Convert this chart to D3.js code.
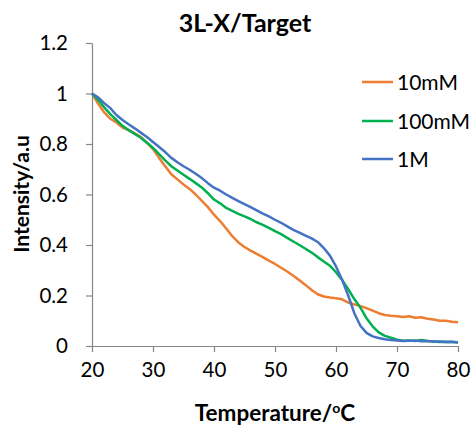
<!DOCTYPE html>
<html><head><meta charset="utf-8">
<script src="https://cdn.jsdelivr.net/npm/d3@7"></script>
<style>body{margin:0;background:#fff}svg{display:block}text{font-family:Lato,"Open Sans",sans-serif;fill:#000}</style>
</head><body>
<script>
const temps = d3.range(20, 81);
const seriesNames = ["10mM", "100mM", "1M"];
const seriesColors = ["#ED7D31", "#00B050", "#4472C4"];
const v10mM = [1.000,0.960,0.925,0.900,0.885,0.865,0.855,0.842,0.828,0.805,0.780,0.745,0.712,0.680,0.660,0.640,0.622,0.600,0.575,0.550,0.520,0.495,0.465,0.435,0.410,0.392,0.378,0.365,0.352,0.338,0.325,0.310,0.295,0.278,0.260,0.242,0.222,0.205,0.196,0.192,0.189,0.185,0.172,0.165,0.158,0.150,0.140,0.130,0.123,0.120,0.118,0.115,0.118,0.112,0.114,0.108,0.105,0.100,0.100,0.096,0.094];
const v100mM = [1.000,0.975,0.945,0.918,0.895,0.872,0.855,0.840,0.825,0.805,0.785,0.760,0.735,0.712,0.695,0.678,0.662,0.645,0.628,0.605,0.580,0.565,0.547,0.535,0.523,0.513,0.503,0.490,0.480,0.468,0.455,0.443,0.428,0.414,0.400,0.385,0.370,0.352,0.335,0.318,0.292,0.262,0.225,0.186,0.152,0.110,0.078,0.054,0.040,0.033,0.025,0.021,0.022,0.020,0.024,0.020,0.018,0.016,0.017,0.016,0.015];
const v1M = [1.000,0.985,0.962,0.942,0.915,0.895,0.878,0.862,0.845,0.828,0.808,0.788,0.768,0.745,0.728,0.712,0.698,0.682,0.665,0.645,0.627,0.615,0.600,0.587,0.574,0.562,0.550,0.537,0.524,0.513,0.500,0.488,0.474,0.460,0.449,0.437,0.426,0.412,0.388,0.358,0.315,0.262,0.200,0.130,0.080,0.052,0.038,0.032,0.027,0.024,0.022,0.020,0.021,0.022,0.019,0.020,0.018,0.018,0.016,0.017,0.014];
const xTicks = [20,30,40,50,60,70,80];
const yTicks = [0,0.2,0.4,0.6,0.8,1,1.2];
const title = "3L-X/Target";
const xTitle = "Temperature/";
const yTitle = "Intensity/a.u";

const W = 474, H = 426;
const svg = d3.select("body").append("svg").attr("width", W).attr("height", H);
const x = d3.scaleLinear().domain([20, 80]).range([92, 458]);
const y = d3.scaleLinear().domain([0, 1.2]).range([346, 43]);
const axisColor = "#868686";

const xAxis = svg.append("g").attr("transform", "translate(0,346)")
  .call(d3.axisBottom(x).tickValues(xTicks).tickSize(6).tickSizeOuter(0).tickPadding(10).tickFormat(d3.format("d")));
const yAxis = svg.append("g").attr("transform", "translate(92,0)")
  .call(d3.axisLeft(y).tickValues(yTicks).tickSize(6).tickSizeOuter(0).tickPadding(18).tickFormat(d => d3.format("~g")(d)));
[xAxis, yAxis].forEach(g => {
  g.selectAll("path,line").attr("stroke", axisColor).attr("stroke-width", 1.2);
  g.selectAll("text").style("font-size", "20.5px").attr("fill", "#000");
});
xAxis.selectAll("text").attr("dy", "0.71em");

const all = [v10mM, v100mM, v1M];
const line = d3.line().x((d, i) => x(temps[i])).y(d => y(d)).curve(d3.curveLinear);
all.forEach((vals, k) => {
  svg.append("path").datum(vals).attr("d", line).attr("fill", "none")
    .attr("stroke", seriesColors[k]).attr("stroke-width", 2.5).attr("stroke-linejoin", "round");
});

svg.append("text").attr("x", 245).attr("y", 32).attr("text-anchor", "middle")
  .style("font-size", "25px").style("font-weight", "bold").text(title);

const xt = svg.append("text").attr("x", 275).attr("y", 421).attr("text-anchor", "middle")
  .style("font-size", "22.5px").style("font-weight", "bold");
xt.append("tspan").text(xTitle);
xt.append("tspan").text("o").style("font-size", "14px").attr("dy", "-8");
xt.append("tspan").text("C").attr("dy", "8");

svg.append("text").attr("transform", "translate(29,194) rotate(-90)").attr("text-anchor", "middle")
  .style("font-size", "21px").style("font-weight", "bold").text(yTitle);

const legY = [82, 121, 159];
seriesNames.forEach((n, k) => {
  svg.append("line").attr("x1", 362).attr("x2", 393).attr("y1", legY[k]).attr("y2", legY[k])
    .attr("stroke", seriesColors[k]).attr("stroke-width", 2.5);
  svg.append("text").attr("x", 397).attr("y", legY[k]).attr("dy", "0.36em")
    .style("font-size", "21px").text(n);
});
</script>
</body></html>
